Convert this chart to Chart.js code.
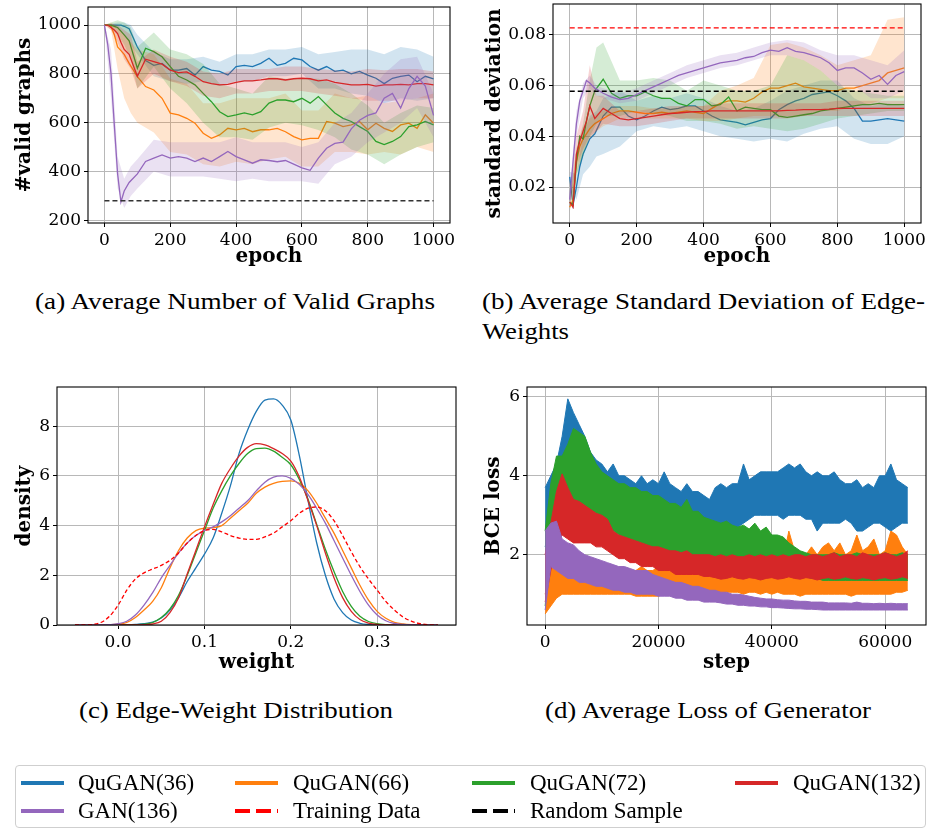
<!DOCTYPE html>
<html><head><meta charset="utf-8">
<script src="https://cdn.jsdelivr.net/npm/chart.js@4.4.0/dist/chart.umd.min.js"></script>
<style>
body{margin:0;background:#fff;width:933px;height:832px;position:relative;overflow:hidden;}
.cv{position:absolute;}
.cap{position:absolute;font-family:'Liberation Serif',serif;font-size:24px;line-height:28px;white-space:nowrap;transform-origin:left top;color:#000;}
#legend{position:absolute;left:15px;top:765px;width:911px;height:63px;border:1px solid #cfcfcf;border-radius:4px;box-sizing:border-box;}
.lt{position:absolute;font-family:'Liberation Serif',serif;font-size:23px;line-height:26px;white-space:nowrap;color:#000;}
</style></head><body>
<div class="cv" style="left:0;top:0;width:465px;height:269px"><canvas id="ca"></canvas></div>
<div class="cv" style="left:470px;top:0;width:463px;height:269px"><canvas id="cb"></canvas></div>
<div class="cv" style="left:0;top:375px;width:470px;height:300px"><canvas id="cc"></canvas></div>
<div class="cv" style="left:470px;top:375px;width:463px;height:300px"><canvas id="cd"></canvas></div>

<div class="cap" data-w="400" style="left:35px;top:287px">(a) Average Number of Valid Graphs</div>
<div class="cap" data-w="443" style="left:482px;top:287px">(b) Average Standard Deviation of Edge-</div>
<div class="cap" data-w="87" style="left:482px;top:317px">Weights</div>
<div class="cap" data-w="314" style="left:79px;top:696px">(c) Edge-Weight Distribution</div>
<div class="cap" data-w="326" style="left:545px;top:696px">(d) Average Loss of Generator</div>

<div id="legend"></div>
<svg id="lsvg" style="position:absolute;left:0;top:0" width="933" height="832"></svg>

<script>
// ---------- shared ----------
const seriesNames = ['QuGAN(36)','QuGAN(66)','QuGAN(72)','QuGAN(132)','GAN(136)'];
const refNames = ['Training Data','Random Sample'];
const epochs = [0,10,20,30,40,50,60,75,100,125,150,175,200,225,250,275,300,325,350,375,400,425,450,475,500,525,550,575,600,625,650,675,700,725,750,775,800,825,850,875,900,925,950,975,1000];
const bandEpochs = [0,20,40,60,80,100,150,200,250,300,350,400,450,500,550,600,650,700,750,800,850,900,950,1000];

// ---------- (a) valid graphs ----------
const validBlue = [1000,1000,1000,1000,1000,1000,995,985, 910,855,835,843,815,815,822,795,830, 815,810,795,830,835,830,843,864,835, 843,864,857,830,815,830,810,815,800, 810,795,782,760,782,790,795,768,790, 780];
const validOrange = [1000,1000,995,960,910,895,880,843, 789,748,734,700,639,632,618,598,557, 536,550,577,571,577,563,571,571,577, 563,543,530,536,536,605,598,584,591, 605,571,598,577,564,591,598,577,632, 598];
const validGreen = [1000,1000,1000,995,990,975,960,935, 823,905,891,870,830,790,775,755,720, 686,645,625,632,640,632,645,680,693, 693,686,700,680,707,673,640,618,605, 584,564,523,510,523,543,584,591,605, 591];
const validRed = [1000,1000,990,980,965,930,900,880, 790,860,850,840,815,805,808,790,768, 760,755,757,765,771,771,775,780,780, 775,780,782,780,771,775,765,760,755, 755,757,750,755,755,757,755,760,760, 755];
const validPurple = [1000,920,800,590,390,275,320,355, 390,441,455,468,455,461,455,441,455, 441,461,482,461,448,434,448,445,440, 445,430,415,405,455,495,515,520,575, 610,630,640,700,720,660,740,790,750, 630];
const validBlueLo = [1000,995,985,960,920,880, 790,770,760,770,750,770,770,790,790,800,740,740,720,710,680,700,690,700];
const validBlueHi = [1000,1005,1010,1010,1000,960, 890,860,860,870,850,880,880,900,900,910,880,890,900,900,880,910,900,870];
const validOrangeLo = [1000,980,820,700,640,600, 560,480,470,430,420,440,430,450,460,420,420,480,480,470,480,470,500,480];
const validOrangeHi = [1000,1010,990,960,930,900, 880,780,760,680,680,700,700,700,720,650,650,720,700,710,680,690,700,720];
const validGreenLo = [1000,990,960,920,860,740, 830,740,680,600,540,540,530,580,600,590,570,540,490,470,430,470,500,520];
const validGreenHi = [1000,1010,1020,1010,990,910, 970,900,880,840,760,740,720,790,780,780,780,760,720,670,600,640,670,660];
const validRedLo = [1000,980,930,860,820,740, 800,770,750,710,700,720,720,730,730,730,720,710,700,690,690,690,700,700];
const validRedHi = [1000,1005,1000,980,960,850, 900,870,850,810,800,820,820,820,830,830,820,815,810,820,815,820,820,810];
const validPurpleLo = [1000,700,330,250,300,330, 400,380,380,380,370,360,370,360,360,360,350,430,460,520,560,600,660,540];
const validPurpleHi = [1000,900,460,370,420,450, 530,520,520,520,520,540,520,520,520,500,520,600,640,720,800,860,870,720];
const randomSampleX = [0,1000];
const randomValid = [280,280];
const ticksAx = [0,200,400,600,800,1000];
const ticksAy = [200,400,600,800,1000];

// ---------- (b) std deviation ----------
const stdBlue = [0.024,0.013,0.020,0.028,0.033,0.036,0.039,0.041, 0.048,0.0515,0.0515,0.048,0.0465,0.048,0.050,0.0515,0.0505, 0.051,0.052,0.052,0.050,0.048,0.0465,0.046,0.0455,0.0445, 0.0455,0.0465,0.047,0.0505,0.0525,0.054,0.055,0.0565,0.057, 0.0575,0.056,0.054,0.051,0.046,0.046,0.0465,0.047,0.0465, 0.046];
const stdOrange = [0.012,0.015,0.030,0.036,0.039,0.041,0.043,0.045, 0.047,0.049,0.050,0.050,0.0495,0.049,0.049,0.0495,0.049, 0.0495,0.050,0.0495,0.049,0.051,0.053,0.054,0.054,0.0535, 0.055,0.0575,0.059,0.059,0.060,0.061,0.0595,0.059,0.0585, 0.058,0.058,0.059,0.059,0.060,0.061,0.062,0.065,0.066, 0.067];
const stdGreen = [0.014,0.013,0.030,0.040,0.039,0.046,0.052,0.058, 0.0625,0.057,0.055,0.056,0.056,0.0575,0.056,0.055,0.055, 0.053,0.052,0.0545,0.0545,0.052,0.0525,0.0555,0.050,0.0515, 0.051,0.0505,0.0505,0.048,0.0475,0.048,0.0485,0.049,0.050, 0.0505,0.051,0.0515,0.052,0.0525,0.0525,0.053,0.0525,0.0525, 0.0525];
const stdRed = [0.014,0.012,0.033,0.038,0.042,0.046,0.052,0.047, 0.051,0.049,0.047,0.0465,0.047,0.0475,0.048,0.0485,0.049, 0.0492,0.0495,0.0497,0.0498,0.050,0.050,0.050,0.050,0.050, 0.050,0.050,0.050,0.050,0.0502,0.0503,0.0505,0.0505,0.0505, 0.0507,0.051,0.051,0.051,0.051,0.051,0.051,0.051,0.051, 0.051];
const stdPurple = [0.015,0.030,0.045,0.054,0.058,0.062,0.061,0.059, 0.057,0.0555,0.0545,0.055,0.0565,0.058,0.0595,0.061,0.0625, 0.064,0.065,0.066,0.067,0.068,0.069,0.0695,0.070,0.071, 0.0715,0.073,0.074,0.0735,0.075,0.0735,0.073,0.072,0.071, 0.069,0.066,0.067,0.067,0.065,0.0625,0.064,0.0605,0.064, 0.0655];
const stdBlueLo = [0.020,0.015,0.025,0.028,0.032,0.033, 0.036,0.042,0.044,0.043,0.044,0.042,0.040,0.039,0.038,0.039,0.038,0.041,0.043,0.044,0.039,0.037,0.037,0.040];
const stdBlueHi = [0.026,0.025,0.040,0.048,0.050,0.055, 0.058,0.054,0.056,0.055,0.057,0.055,0.052,0.050,0.051,0.054,0.058,0.060,0.062,0.062,0.055,0.052,0.053,0.052];
const stdOrangeLo = [0.010,0.025,0.034,0.039,0.042,0.044, 0.047,0.047,0.047,0.047,0.047,0.046,0.046,0.047,0.048,0.048,0.048,0.048,0.050,0.050,0.052,0.053,0.055,0.055];
const stdOrangeHi = [0.014,0.035,0.044,0.047,0.049,0.050, 0.052,0.052,0.051,0.051,0.052,0.052,0.058,0.060,0.063,0.076,0.077,0.075,0.072,0.068,0.070,0.072,0.086,0.087];
const stdGreenLo = [0.012,0.025,0.032,0.040,0.045,0.048, 0.048,0.050,0.049,0.048,0.046,0.046,0.045,0.043,0.044,0.043,0.042,0.043,0.045,0.047,0.048,0.049,0.050,0.050];
const stdGreenHi = [0.016,0.035,0.045,0.062,0.075,0.077, 0.062,0.062,0.063,0.062,0.058,0.062,0.060,0.058,0.058,0.060,0.072,0.070,0.066,0.060,0.058,0.057,0.056,0.056];
const stdRedLo = [0.012,0.028,0.035,0.040,0.042,0.045, 0.044,0.044,0.045,0.046,0.047,0.047,0.047,0.047,0.047,0.047,0.047,0.048,0.048,0.048,0.048,0.048,0.048,0.048];
const stdRedHi = [0.016,0.040,0.050,0.068,0.056,0.056, 0.050,0.050,0.051,0.052,0.052,0.052,0.053,0.053,0.053,0.053,0.053,0.053,0.053,0.054,0.054,0.054,0.054,0.054];
const stdPurpleLo = [0.012,0.040,0.055,0.059,0.056,0.055, 0.053,0.054,0.057,0.060,0.063,0.065,0.067,0.068,0.070,0.072,0.072,0.070,0.066,0.060,0.060,0.055,0.055,0.058];
const stdPurpleHi = [0.018,0.050,0.061,0.064,0.060,0.059, 0.057,0.059,0.062,0.065,0.068,0.070,0.072,0.073,0.075,0.077,0.078,0.077,0.074,0.072,0.072,0.070,0.068,0.074];
const trainingStd = [0.0828,0.0828];
const randomStd = [0.0578,0.0578];
const ticksBx = [0,200,400,600,800,1000];
const ticksBy = [0.02,0.04,0.06,0.08];

// ---------- (c) edge-weight density ----------
const weights = [-0.05,-0.04,-0.03,-0.02,-0.01,0.00,0.01,0.02,0.03,0.04,0.05,0.06,0.07,0.08,0.09,0.10,0.11,0.12,0.13,0.14,0.15,0.16,0.17,0.18,0.19,0.20,0.21,0.22,0.23,0.24,0.25,0.26,0.27,0.28,0.29,0.30,0.31,0.32,0.33,0.34,0.35,0.36,0.37];
const densBlue = [0,0,0,0,0,0,0.005,0.02,0.05,0.12,0.28,0.6,1.1,1.75,2.3,2.85,3.5,4.5,5.6,6.9,7.85,8.6,9.05,9.1,8.85,8.25,6.8,5.0,3.3,2.0,1.05,0.5,0.2,0.07,0.02,0.005,0,0,0,0,0,0,0];
const densOrange = [0,0,0,0.005,0.01,0.03,0.1,0.3,0.6,0.95,1.5,2.3,3.0,3.5,3.8,3.9,3.92,4.0,4.3,4.6,4.9,5.3,5.55,5.7,5.78,5.8,5.7,5.4,4.9,4.3,3.7,3.0,2.3,1.6,1.0,0.55,0.27,0.11,0.04,0.01,0,0,0];
const densGreen = [0,0,0,0,0,0,0.005,0.01,0.03,0.1,0.3,0.65,1.2,2.0,2.9,3.8,4.7,5.4,6.0,6.5,6.9,7.1,7.12,7.0,6.75,6.45,5.85,5.05,4.05,3.05,2.15,1.35,0.75,0.35,0.14,0.05,0.015,0.005,0,0,0,0,0];
const densRed = [0,0,0,0,0,0,0,0.005,0.01,0.04,0.15,0.5,1.1,2.05,3.0,3.95,4.85,5.7,6.3,6.8,7.15,7.3,7.25,7.1,6.9,6.6,5.95,5.0,4.0,2.9,1.9,1.1,0.55,0.22,0.08,0.02,0.005,0,0,0,0,0,0];
const densPurple = [0,0,0,0.005,0.015,0.05,0.15,0.4,0.8,1.3,1.9,2.4,2.9,3.3,3.6,3.8,3.95,4.15,4.4,4.7,5.0,5.4,5.75,5.95,6.0,5.9,5.65,5.25,4.7,4.1,3.4,2.7,2.0,1.35,0.8,0.4,0.17,0.06,0.02,0.005,0,0,0];
const densTraining = [0,0.005,0.02,0.1,0.35,0.8,1.4,1.85,2.1,2.25,2.4,2.6,2.9,3.3,3.6,3.8,3.85,3.75,3.6,3.5,3.45,3.45,3.55,3.7,3.95,4.2,4.5,4.7,4.75,4.6,4.2,3.6,2.95,2.35,1.85,1.4,0.95,0.6,0.32,0.15,0.05,0.01,0];
const ticksCx = [0.0,0.1,0.2,0.3];
const ticksCy = [0,2,4,6,8];

// ---------- (d) generator BCE loss (min / max envelope of the noisy trace) ----------
const steps = [0,1000,2000,3000,4000,5000,6000,7000,8000,9000,
  10000,11000,12000,13000,14000,15000,16000,17000,18000,19000,
  20000,21000,22000,23000,24000,25000,26000,27000,28000,29000,
  30000,31000,32000,33000,34000,35000,36000,37000,38000,39000,
  40000,41000,42000,43000,44000,45000,46000,47000,48000,49000,
  50000,51000,52000,53000,54000,55000,56000,57000,58000,59000,
  60000,61000,62000,63000,64000];
const lossBlueLo = [2.2,2.8,3.0,3.3,3.5,3.4,3.3,3.2,3.1,3.0,
  3.0,3.0,2.9,2.9,2.9,2.9,2.9,2.9,2.8,2.8,
  2.8,2.8,2.8,2.8,2.7,2.7,2.7,2.7,2.6,2.6,
  2.7,2.7,2.6,2.6,2.7,2.8,2.9,3.0,3.0,3.0,
  3.0,3.0,2.9,3.0,3.0,3.0,2.9,2.9,2.6,2.8,
  2.8,2.8,2.8,2.9,2.8,2.6,2.6,2.7,2.8,2.8,
  2.7,2.6,2.7,2.8,2.8];
const lossBlueHi = [3.7,4.0,4.3,5.0,5.95,5.6,5.3,5.0,4.6,4.4,
  4.3,4.1,4.3,4.0,4.0,3.9,3.8,4.0,3.8,3.9,
  3.8,4.1,3.8,3.7,3.6,3.8,3.6,3.6,3.5,3.4,
  3.7,3.8,3.7,3.8,3.8,4.3,3.9,4.0,4.1,4.1,
  4.1,4.1,4.2,4.3,4.2,4.3,4.1,4.0,4.1,4.0,
  4.0,4.1,3.9,3.8,3.8,3.9,3.7,3.8,3.7,4.0,
  4.0,4.3,3.9,3.8,3.7];
const lossOrangeLo = [0.5,0.7,0.9,1.0,1.0,1.0,1.0,1.0,1.0,1.0,
  1.0,1.0,1.0,1.0,1.0,1.0,0.95,0.95,0.95,0.95,
  0.95,1.0,1.0,1.0,1.0,1.05,1.05,1.05,1.05,1.05,
  1.05,1.0,1.05,1.05,1.05,1.0,1.05,1.05,1.0,1.05,
  1.0,1.05,1.0,1.0,1.0,0.95,1.0,1.0,1.0,1.0,
  1.0,1.0,1.0,1.0,0.95,1.0,1.0,1.0,1.0,1.0,
  1.0,1.0,1.05,1.05,1.1];
const lossOrangeHi = [1.0,1.6,1.9,1.5,1.6,1.5,1.5,1.4,1.5,1.4,
  1.5,1.7,1.5,1.6,1.5,1.6,1.6,1.7,1.6,1.6,
  1.7,1.6,1.7,1.7,1.7,1.7,1.7,1.7,1.8,1.7,
  1.8,1.7,1.7,1.8,1.7,1.7,1.8,1.8,1.8,1.8,
  1.8,1.8,1.9,2.6,2.1,2.0,2.0,2.2,2.0,2.2,
  2.3,2.1,2.3,2.0,2.1,2.5,2.1,2.2,2.4,2.0,
  2.1,2.6,2.5,2.2,2.0];
const lossGreenLo = [0.7,2.2,2.8,3.0,3.2,3.3,3.3,3.2,3.0,2.9,
  2.8,2.7,2.6,2.5,2.4,2.3,2.3,2.2,2.2,2.1,
  2.1,2.0,2.0,2.0,1.9,1.9,1.9,1.8,1.8,1.8,
  1.7,1.7,1.7,1.7,1.7,1.7,1.6,1.6,1.6,1.6,
  1.6,1.5,1.5,1.5,1.5,1.45,1.45,1.4,1.4,1.35,
  1.35,1.35,1.35,1.35,1.35,1.35,1.35,1.35,1.35,1.35,
  1.35,1.35,1.35,1.35,1.35];
const lossGreenHi = [2.6,3.8,4.5,4.5,4.8,5.2,5.1,5.0,4.6,4.3,
  4.1,4.0,3.9,3.8,3.8,3.7,3.7,3.6,3.6,3.5,
  3.5,3.4,3.3,3.3,3.2,3.4,3.1,3.1,2.95,2.9,
  2.85,2.8,2.85,2.75,2.7,2.75,2.65,2.8,2.6,2.7,
  2.5,2.5,2.45,2.3,2.2,2.1,2.05,2.0,2.0,2.0,
  2.0,2.05,2.0,2.0,2.0,2.05,2.0,2.0,2.0,2.0,
  2.05,2.0,2.0,2.05,2.0];
const lossRedLo = [0.8,1.6,2.2,2.5,2.4,2.3,2.3,2.3,2.3,2.2,
  2.2,2.1,2.0,1.9,1.9,1.8,1.8,1.7,1.7,1.7,
  1.6,1.6,1.6,1.5,1.5,1.5,1.5,1.5,1.45,1.45,
  1.42,1.38,1.4,1.44,1.4,1.38,1.42,1.4,1.36,1.4,
  1.42,1.38,1.4,1.44,1.4,1.38,1.42,1.4,1.36,1.4,
  1.42,1.38,1.4,1.44,1.4,1.38,1.42,1.4,1.36,1.4,
  1.42,1.38,1.4,1.44,1.4];
const lossRedHi = [2.0,2.8,3.6,4.05,3.7,3.4,3.35,3.25,3.15,3.05,
  3.0,2.9,2.6,2.5,2.45,2.4,2.35,2.3,2.25,2.2,
  2.2,2.15,2.1,2.1,2.05,2.1,2.0,2.0,2.0,2.0,
  1.95,2.0,1.95,2.0,1.95,1.95,2.0,1.95,2.0,1.95,
  2.0,1.95,2.0,1.95,2.0,2.0,1.95,2.0,2.0,1.95,
  2.0,2.05,1.95,2.0,2.0,1.95,2.05,2.0,1.95,2.0,
  2.05,2.0,1.95,2.0,2.1];
const lossPurpleLo = [0.6,1.7,1.6,1.5,1.4,1.4,1.3,1.3,1.25,1.2,
  1.2,1.15,1.1,1.1,1.05,1.05,1.0,1.0,1.0,1.0,
  0.95,0.95,0.95,0.9,0.9,0.85,0.85,0.85,0.8,0.8,
  0.8,0.78,0.75,0.75,0.72,0.72,0.7,0.7,0.68,0.68,
  0.66,0.66,0.65,0.64,0.63,0.63,0.62,0.62,0.61,0.6,
  0.6,0.6,0.6,0.6,0.6,0.6,0.6,0.6,0.6,0.6,
  0.6,0.6,0.6,0.6,0.6];
const lossPurpleHi = [2.6,2.8,2.85,2.4,2.3,2.25,2.1,2.0,1.95,1.9,
  1.85,1.8,1.75,1.7,1.7,1.65,1.6,1.6,1.6,1.5,
  1.45,1.4,1.35,1.3,1.3,1.25,1.2,1.2,1.15,1.1,
  1.1,1.05,1.05,1.0,1.0,0.98,0.95,0.92,0.9,0.88,
  0.88,0.86,0.85,0.85,0.83,0.82,0.82,0.8,0.8,0.8,
  0.78,0.78,0.78,0.78,0.77,0.8,0.77,0.77,0.76,0.77,
  0.76,0.77,0.76,0.76,0.76];
const ticksDx = [0,20000,40000,60000];
const ticksDy = [2,4,6];

// ---------- styling ----------
const C = {blue:'#1f77b4', orange:'#ff7f0e', green:'#2ca02c', red:'#d62728', purple:'#9467bd', train:'#ff0000', rand:'#000000'};
const FONT = "'DejaVu Serif', serif";
Chart.defaults.font.family = FONT;
Chart.defaults.color = '#000';

function rgba(hex, a){const n=parseInt(hex.slice(1),16);return `rgba(${n>>16&255},${n>>8&255},${n&255},${a})`;}
function pts(xs, ys){return xs.map((x,i)=>({x:x, y:ys[i]}));}

const framePlugin = {id:'frame', afterDatasetsDraw(chart){
  const a = chart.chartArea, ctx = chart.ctx;
  ctx.save(); ctx.strokeStyle='#000'; ctx.lineWidth=1.1;
  ctx.strokeRect(a.left, a.top, a.right-a.left, a.bottom-a.top); ctx.restore();
}};

function axis(min, max, ticks, fmt, title, horizontal, size){
  return {
    type:'linear', min:min, max:max,
    border:{display:false},
    grid:{color:'#b8b8b8', lineWidth:1, tickColor:'#000', tickLength:4, drawTicks:true},
    ticks:{font:{family:FONT,size:17}, color:'#000', padding:3, maxRotation:0, autoSkip:false, callback:(v)=>fmt(v)},
    title:{display:true, text:title, color:'#000', font:{family:FONT,size:20,weight:'bold'}, padding:0},
    afterBuildTicks:(s)=>{s.ticks = ticks.map(v=>({value:v}));},
    afterFit:(s)=>{ if(horizontal){s.height=size;} else {s.width=size;} s.paddingTop=0; s.paddingBottom=0; s.paddingLeft=0; s.paddingRight=0; }
  };
}

function makeChart(id, datasets, xAxis, yAxis, pad){
  return new Chart(document.getElementById(id), {
    type:'line',
    data:{datasets:datasets},
    options:{
      responsive:true, maintainAspectRatio:false, animation:false, events:[],
      layout:{padding:pad, autoPadding:false},
      plugins:{legend:{display:false}, tooltip:{enabled:false}},
      elements:{point:{radius:0}, line:{tension:0}},
      scales:{x:xAxis, y:yAxis}
    },
    plugins:[framePlugin]
  });
}

function addBand(ds, xs, mean, bx, lo, hi, color, order){
  ds.push({data:pts(xs,mean), borderColor:color, borderWidth:1.3, pointRadius:0, fill:false, order:order});
  const loIdx = ds.length;
  ds.push({data:pts(bx,lo), borderColor:'transparent', borderWidth:0, pointRadius:0, fill:false, order:order});
  ds.push({data:pts(bx,hi), borderColor:'transparent', borderWidth:0, pointRadius:0, fill:{target:loIdx}, backgroundColor:rgba(color,0.2), order:order});
}
function addEnvelope(ds, xs, lo, hi, color, order){
  const loIdx = ds.length;
  ds.push({data:pts(xs,lo), borderColor:color, borderWidth:1, pointRadius:0, fill:false, order:order});
  ds.push({data:pts(xs,hi), borderColor:color, borderWidth:1, pointRadius:0, fill:{target:loIdx}, backgroundColor:color, order:order});
}
function dashed(xs, ys, color, dash, order, w){
  return {data:pts(xs,ys), borderColor:color, borderWidth:w, borderDash:dash, pointRadius:0, fill:false, order:order};
}

// (a)
const dsA = [];
dsA.push(dashed(randomSampleX, randomValid, '#333333', [5,3], 0, 1.4));
addBand(dsA, epochs, validBlue, bandEpochs, validBlueLo, validBlueHi, C.blue, 5);
addBand(dsA, epochs, validOrange, bandEpochs, validOrangeLo, validOrangeHi, C.orange, 4);
addBand(dsA, epochs, validGreen, bandEpochs, validGreenLo, validGreenHi, C.green, 3);
addBand(dsA, epochs, validRed, bandEpochs, validRedLo, validRedHi, C.red, 2);
addBand(dsA, epochs, validPurple, bandEpochs, validPurpleLo, validPurpleHi, C.purple, 1);
makeChart('ca', dsA,
  axis(-50,1050,ticksAx,v=>String(v),'epoch',true,46),
  axis(189,1074,ticksAy,v=>String(v),'#valid graphs',false,75),
  {left:13, top:7, right:15, bottom:0});

// (b)
const dsB = [];
dsB.push(dashed(randomSampleX, trainingStd, C.train, [5,3], 0, 1.4));
dsB.push(dashed(randomSampleX, randomStd, C.rand, [5,3], 0, 1.4));
addBand(dsB, epochs, stdBlue, bandEpochs, stdBlueLo, stdBlueHi, C.blue, 5);
addBand(dsB, epochs, stdOrange, bandEpochs, stdOrangeLo, stdOrangeHi, C.orange, 4);
addBand(dsB, epochs, stdGreen, bandEpochs, stdGreenLo, stdGreenHi, C.green, 3);
addBand(dsB, epochs, stdRed, bandEpochs, stdRedLo, stdRedHi, C.red, 2);
addBand(dsB, epochs, stdPurple, bandEpochs, stdPurpleLo, stdPurpleHi, C.purple, 1);
makeChart('cb', dsB,
  axis(-50,1050,ticksBx,v=>String(v),'epoch',true,46),
  axis(0.0058,0.0922,ticksBy,v=>v.toFixed(2),'standard deviation',false,70),
  {left:13, top:4, right:12, bottom:0});

// (c)
function kde(ys, color, order){
  return {data:pts(weights,ys), borderColor:color, borderWidth:1.3, pointRadius:0, fill:false, cubicInterpolationMode:'monotone', order:order};
}
const dsC = [
  Object.assign(kde(densTraining, C.train, 0), {borderDash:[4,2.5]}),
  kde(densPurple, C.purple, 1),
  kde(densRed, C.red, 2),
  kde(densGreen, C.green, 3),
  kde(densOrange, C.orange, 4),
  kde(densBlue, C.blue, 5)
];
makeChart('cc', dsC,
  axis(-0.0708,0.3913,ticksCx,v=>v.toFixed(1),'weight',true,50),
  axis(0,9.58,ticksCy,v=>String(v),'density',false,44),
  {left:13, top:12, right:14, bottom:0});

// (d)
const dsD = [];
addEnvelope(dsD, steps, lossPurpleLo, lossPurpleHi, C.purple, 1);
addEnvelope(dsD, steps, lossRedLo, lossRedHi, C.red, 2);
addEnvelope(dsD, steps, lossGreenLo, lossGreenHi, C.green, 3);
addEnvelope(dsD, steps, lossOrangeLo, lossOrangeHi, C.orange, 4);
addEnvelope(dsD, steps, lossBlueLo, lossBlueHi, C.blue, 5);
makeChart('cd', dsD,
  axis(-3200,67200,ticksDx,v=>String(v),'step',true,50),
  axis(0.22,6.25,ticksDy,v=>String(v),'BCE loss',false,45),
  {left:12, top:12, right:7, bottom:0});

// ---------- captions (fit to measured widths) ----------
document.querySelectorAll('.cap').forEach(el=>{
  const w = el.getBoundingClientRect().width;
  el.style.transform = `scaleX(${(+el.dataset.w)/w})`;
});

// ---------- legend ----------
const legendItems = [
  {t:seriesNames[0], c:C.blue, d:false}, {t:seriesNames[1], c:C.orange, d:false},
  {t:seriesNames[2], c:C.green, d:false}, {t:seriesNames[3], c:C.red, d:false},
  {t:seriesNames[4], c:C.purple, d:false}, {t:refNames[0], c:C.train, d:true},
  {t:refNames[1], c:C.rand, d:true}
];
const colX = [21,235,472,735], textX = [78,293,530,793], rowY = [783,811];
const svg = document.getElementById('lsvg');
legendItems.forEach((it,i)=>{
  const col = i%4, row = Math.floor(i/4);
  const ln = document.createElementNS('http://www.w3.org/2000/svg','line');
  ln.setAttribute('x1',colX[col]); ln.setAttribute('x2',colX[col]+43);
  ln.setAttribute('y1',rowY[row]); ln.setAttribute('y2',rowY[row]);
  ln.setAttribute('stroke',it.c); ln.setAttribute('stroke-width','4');
  if(it.d) ln.setAttribute('stroke-dasharray','15 6');
  svg.appendChild(ln);
  const sp = document.createElement('div');
  sp.className='lt'; sp.textContent=it.t;
  sp.style.left=textX[col]+'px'; sp.style.top=(rowY[row]-13)+'px';
  document.body.appendChild(sp);
});
</script>
</body></html>
